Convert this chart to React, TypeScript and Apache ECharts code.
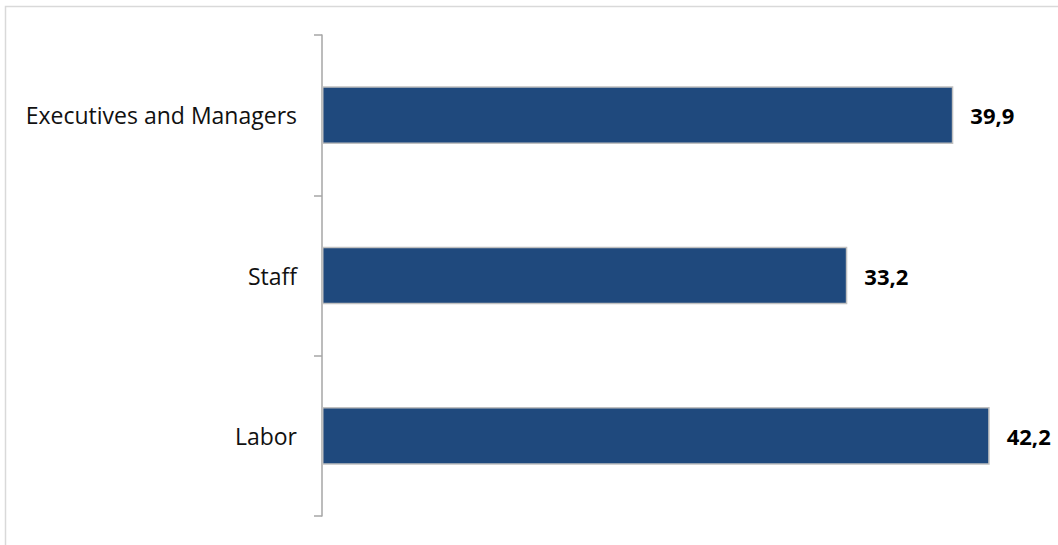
import React, { useEffect, useRef } from "react";
import * as echarts from "echarts";

const categories = ["Labor", "Staff", "Executives and Managers"];
const values = [42.2, 33.2, 39.9];

export default function App() {
  const ref = useRef<HTMLDivElement>(null);
  useEffect(() => {
    const chart = echarts.init(ref.current!, null, { renderer: "svg" });
    chart.setOption({
      animation: false,
      backgroundColor: "#ffffff",
      graphic: [
        {
          type: "rect",
          shape: { x: 5.5, y: 6.5, width: 1200, height: 700 },
          style: { fill: "none", stroke: "#d9d9d9", lineWidth: 1.5 },
          silent: true,
        },
      ],
      grid: { left: 322, top: 35, bottom: 29, width: 712, containLabel: false },
      xAxis: {
        type: "value",
        min: 0,
        max: 45,
        show: false,
      },
      yAxis: {
        type: "category",
        data: categories,
        axisLine: { show: true, lineStyle: { color: "#a6a6a6", width: 1.5 } },
        axisTick: { show: true, length: 8, lineStyle: { color: "#a6a6a6", width: 1.5 } },
        axisLabel: {
          margin: 25,
          fontSize: 23,
          color: "#111111",
          fontFamily: "'Open Sans', 'Noto Sans', sans-serif",
        },
        splitLine: { show: false },
      },
      series: [
        {
          type: "bar",
          data: values,
          barWidth: "36%",
          itemStyle: { color: "#1f497d", borderColor: "#c0c0c0", borderWidth: 1.5 },
          label: {
            show: true,
            position: "right",
            distance: 17,
            fontSize: 22,
            fontWeight: "bold",
            color: "#000000",
            fontFamily: "'Open Sans', 'Noto Sans', sans-serif",
            formatter: (p: any) => String(p.value.toFixed(1)).replace(".", ","),
          },
        },
      ],
    });
    return () => chart.dispose();
  }, []);
  return (
    <div
      ref={ref}
      style={{ position: "absolute", left: 0, top: 0, width: 1058, height: 545 }}
    />
  );
}
